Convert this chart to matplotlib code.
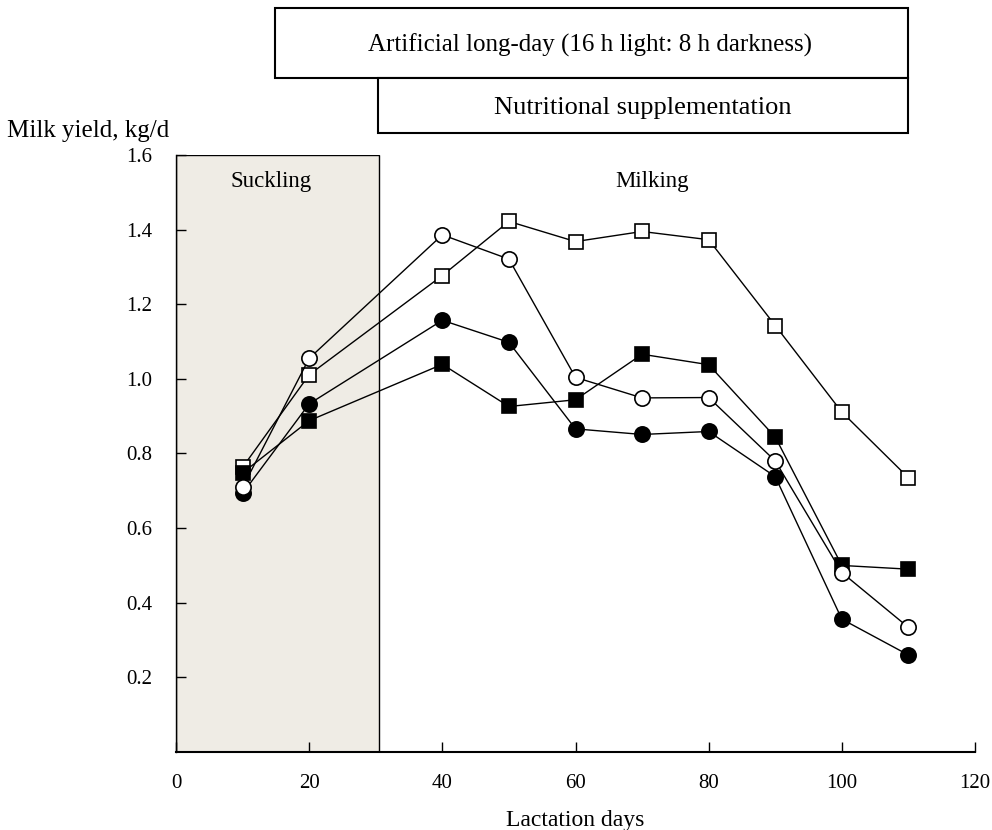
import matplotlib
matplotlib.use("Agg")
import matplotlib.pyplot as plt
from matplotlib.patches import Rectangle

plt.rcParams["font.family"] = ["Liberation Serif", "DejaVu Serif"]

days = [10, 20, 40, 50, 60, 70, 80, 90, 100, 110]
open_square = [0.763, 1.011, 1.277, 1.422, 1.368, 1.395, 1.373, 1.143, 0.911, 0.735]
filled_square = [0.748, 0.888, 1.039, 0.926, 0.944, 1.066, 1.038, 0.844, 0.500, 0.490]
filled_circle = [0.693, 0.933, 1.157, 1.098, 0.866, 0.851, 0.859, 0.738, 0.356, 0.260]
open_circle = [0.709, 1.055, 1.386, 1.321, 1.004, 0.949, 0.950, 0.780, 0.481, 0.334]

fig = plt.figure(figsize=(9.92, 8.3), dpi=100)
ax = fig.add_axes([176 / 992, 1 - 752 / 830, 799 / 992, (752 - 155) / 830])

ax.add_patch(Rectangle((0, 0), 30.5, 1.6, facecolor="#efece5", edgecolor="black",
                       linewidth=1.0, zorder=0))

series = [
    (open_square, "s", "white"),
    (filled_square, "s", "black"),
    (filled_circle, "o", "black"),
    (open_circle, "o", "white"),
]
for vals, mk, fc in series:
    ax.plot(days, vals, color="black", linewidth=1.0, marker=mk, markersize=11 if mk == "o" else 10.5,
            markerfacecolor=fc, markeredgecolor="black", markeredgewidth=1.2, zorder=3)

ax.set_xlim(0, 120)
ax.set_ylim(0, 1.6)
ax.set_xticks(range(0, 121, 20))
ax.set_yticks([0.2, 0.4, 0.6, 0.8, 1.0, 1.2, 1.4, 1.6])
ax.set_yticklabels(["0.2", "0.4", "0.6", "0.8", "1.0", "1.2", "1.4", "1.6"])
ax.tick_params(direction="in", length=7, width=1.0, labelsize=15)
ax.tick_params(axis="x", pad=16)
ax.tick_params(axis="y", pad=17)
ax.spines["top"].set_visible(False)
ax.spines["right"].set_visible(False)
ax.spines["left"].set_linewidth(1.0)
ax.spines["bottom"].set_linewidth(1.5)

ax.text(14.3, 1.53, "Suckling", ha="center", va="center", fontsize=16.5)
ax.text(71.5, 1.53, "Milking", ha="center", va="center", fontsize=16.5)
ax.set_xlabel("Lactation days", fontsize=17, labelpad=12)
fig.text(7 / 992, 1 - 131 / 830, "Milk yield, kg/d", ha="left", va="center", fontsize=18)

# treatment boxes above the axes
fig.add_artist(Rectangle((275 / 992, 1 - 78 / 830), (908 - 275) / 992, 70 / 830,
                         transform=fig.transFigure, facecolor="white", edgecolor="black", linewidth=1.5))
fig.add_artist(Rectangle((378 / 992, 1 - 133 / 830), (908 - 378) / 992, 55 / 830,
                         transform=fig.transFigure, facecolor="white", edgecolor="black", linewidth=1.5))
fig.text(590 / 992, 1 - 45 / 830, "Artificial long-day (16 h light: 8 h darkness)",
         ha="center", va="center", fontsize=18)
fig.text(643 / 992, 1 - 108 / 830, "Nutritional supplementation",
         ha="center", va="center", fontsize=19)

fig.savefig("out.png", dpi=100)
